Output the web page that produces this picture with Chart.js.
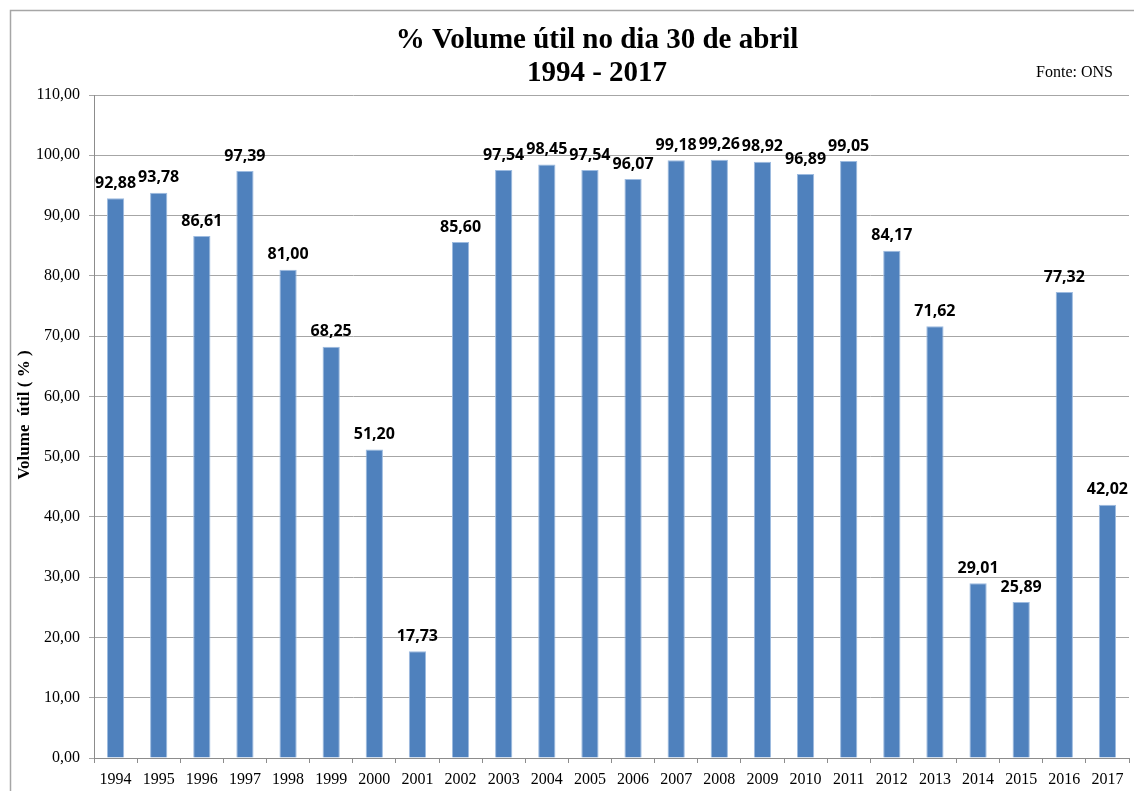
<!DOCTYPE html>
<html lang="pt">
<head>
    <meta charset="UTF-8">
    <title>Volume útil 30 de abril</title>
    <style>
        html, body {
            margin: 0;
            padding: 0;
            background: #ffffff;
        }
        .chart-box {
            position: relative;
            width: 1134px;
            height: 791px;
        }
    </style>
    <script src="https://cdn.jsdelivr.net/npm/chart.js"></script>
</head>
<body>
    <div class="chart-box">
        <canvas id="volumeChart"></canvas>
    </div>

    <script>
        const years = ['1994', '1995', '1996', '1997', '1998', '1999', '2000', '2001', '2002', '2003', '2004', '2005',
            '2006', '2007', '2008', '2009', '2010', '2011', '2012', '2013', '2014', '2015', '2016', '2017'];
        const volumes = [92.88, 93.78, 86.61, 97.39, 81.00, 68.25, 51.20, 17.73, 85.60, 97.54, 98.45, 97.54,
            96.07, 99.18, 99.26, 98.92, 96.89, 99.05, 84.17, 71.62, 29.01, 25.89, 77.32, 42.02];
        const titleLines = ['% Volume útil no dia 30 de abril', '1994 - 2017'];
        const sourceText = 'Fonte: ONS';
        const yTitle = 'Volume  útil ( % )';

        const fmt = v => v.toFixed(2).replace('.', ',');

        // frame, titles and value labels
        const decorPlugin = {
            id: 'decor',
            beforeDraw(chart) {
                const ctx = chart.ctx;
                ctx.save();
                ctx.strokeStyle = '#a6a6a6';
                ctx.lineWidth = 1.5;
                ctx.strokeRect(10.5, 10.5, 1140, 800);
                ctx.restore();
            },
            afterDatasetsDraw(chart) {
                const ctx = chart.ctx;
                ctx.save();
                ctx.fillStyle = '#000000';
                ctx.textAlign = 'center';
                ctx.textBaseline = 'middle';
                ctx.font = 'bold 29px "Liberation Serif"';
                ctx.fillText(titleLines[0], 597, 41);
                ctx.fillText(titleLines[1], 597, 74);

                ctx.font = '16px "Liberation Serif"';
                ctx.textAlign = 'right';
                ctx.fillText(sourceText, 1113, 73);

                // y axis title
                ctx.save();
                ctx.translate(25, 415);
                ctx.rotate(-Math.PI / 2);
                ctx.textAlign = 'center';
                ctx.font = 'bold 17px "Liberation Serif"';
                ctx.fillText(yTitle, 0, 0);
                ctx.restore();

                ctx.font = 'bold 16px "Open Sans"';
                ctx.textAlign = 'center';
                ctx.textBaseline = 'bottom';
                const meta = chart.getDatasetMeta(0);
                meta.data.forEach((bar, i) => {
                    ctx.fillText(fmt(volumes[i]), bar.x, bar.y - 7);
                });
                ctx.restore();
            }
        };

        new Chart(document.getElementById('volumeChart'), {
            type: 'bar',
            data: {
                labels: years,
                datasets: [{
                    data: volumes,
                    backgroundColor: '#4f81bd',
                    borderColor: '#9dbbe0',
                    borderWidth: 1,
                    barPercentage: 0.4,
                    categoryPercentage: 1.0
                }]
            },
            options: {
                responsive: true,
                maintainAspectRatio: false,
                animation: false,
                layout: {
                    padding: { top: 95, left: 27, right: 5, bottom: -6 }
                },
                plugins: {
                    legend: { display: false },
                    tooltip: { enabled: false }
                },
                scales: {
                    x: {
                        grid: {
                            display: true,
                            drawOnChartArea: false,
                            offset: true,
                            tickLength: 5,
                            color: '#8c8c8c'
                        },
                        border: { color: '#8c8c8c' },
                        ticks: {
                            color: '#000000',
                            maxRotation: 0,
                            autoSkip: false,
                            padding: 9,
                            font: { family: '"Liberation Serif"', size: 16, lineHeight: 1 }
                        }
                    },
                    y: {
                        min: 0,
                        max: 110,
                        ticks: {
                            stepSize: 10,
                            color: '#000000',
                            padding: 9,
                            callback: v => fmt(v),
                            font: { family: '"Liberation Serif"', size: 16 }
                        },
                        grid: {
                            color: '#a6a6a6',
                            tickLength: 5
                        },
                        border: { color: '#8c8c8c' }
                    }
                }
            },
            plugins: [decorPlugin]
        });
    </script>
</body>
</html>
